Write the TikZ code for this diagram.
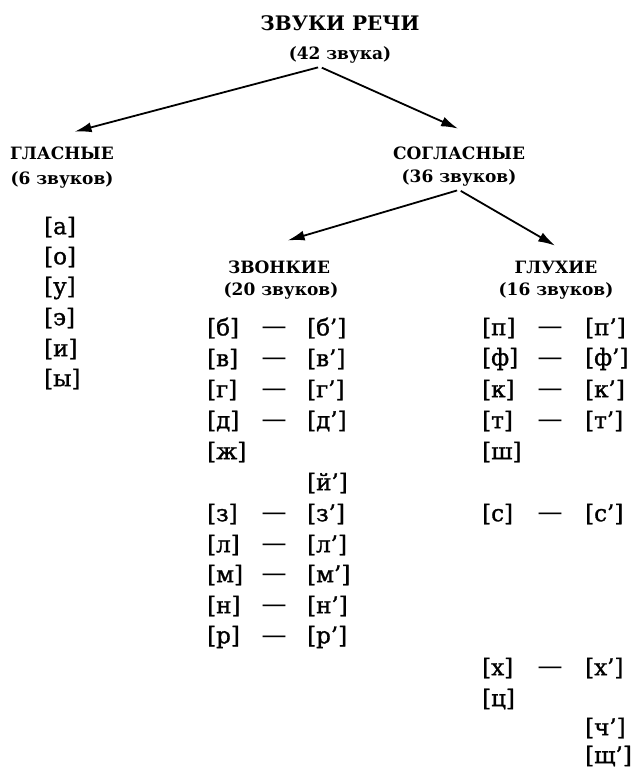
\documentclass[tikz,border=0pt]{standalone}
\usepackage{fontspec}
\setmainfont{DejaVu Serif}
\usepackage{tikz}
\usetikzlibrary{arrows.meta}

\tikzset{
	arr/.style={line width=1.8pt,-{Latex[length=17pt,width=10pt]},shorten <=2pt},
	toptxt/.style={font=\bfseries\fontsize{20}{24}\selectfont},
	headtxt/.style={font=\bfseries\fontsize{17}{20}\selectfont},
	snd/.style={anchor=west,inner sep=0pt,font=\fontsize{23}{26}\selectfont\addfontfeature{FakeBold=1.2}},
	dsh/.style={inner sep=0pt,yshift=-3pt,font=\fontsize{25}{26}\selectfont}
}

\begin{document}
\begin{tikzpicture}[x=1pt,y=-1pt]
		\useasboundingbox (0,0) rectangle (642,771);
		% heads
		\node[toptxt] (title) at (340,23) {ЗВУКИ РЕЧИ};
		\node[headtxt] (all) at (340,55) {(42 звука)};
		\node[headtxt] (vow) at (62,153) {ГЛАСНЫЕ};
		\node[headtxt] (vowN) at (62,180) {(6 звуков)};
		\node[headtxt] (cons) at (459,153) {СОГЛАСНЫЕ};
		\node[headtxt] (consN) at (459,178) {(36 звуков)};
		\node[headtxt] (voiced) at (279,267) {ЗВОНКИЕ};
		\node[headtxt] (voicedN) at (281,291) {(20 звуков)};
		\node[headtxt] (deaf) at (556,267) {ГЛУХИЕ};
		\node[headtxt] (deafN) at (556,291) {(16 звуков)};
		\draw[arr,shorten >=13pt] ([xshift=-20pt]all.south) -- ([yshift=8pt]vow.north);
		\draw[arr,shorten >=1pt] ([xshift=-20pt]all.south) -- ([yshift=14pt]cons.north);
		\draw[arr,shorten >=9pt] (consN.south) -- ([yshift=14pt]voiced.north);
		\draw[arr,shorten >=1pt] (consN.south) -- ([yshift=11pt]deaf.north);
		% vowels
		\node[snd] (a) at (44,227) {[а]};
		\node[snd] (o) at (44,257) {[о]};
		\node[snd] (u) at (44,288) {[у]};
		\node[snd] (e) at (44,318) {[э]};
		\node[snd] (i) at (44,349) {[и]};
		\node[snd] (y) at (44,379) {[ы]};
		% voiced
		\node[snd] (b) at (207,328) {[б]};
		\node[dsh] (db) at (274,328) {—};
		\node[snd] (bb) at (307,328) {[б’]};
		\node[snd] (v) at (207,359) {[в]};
		\node[dsh] (dv) at (274,359) {—};
		\node[snd] (vv) at (307,359) {[в’]};
		\node[snd] (g) at (207,390) {[г]};
		\node[dsh] (dg) at (274,390) {—};
		\node[snd] (gg) at (307,390) {[г’]};
		\node[snd] (d) at (207,421) {[д]};
		\node[dsh] (dd) at (274,421) {—};
		\node[snd] (ddd) at (307,421) {[д’]};
		\node[snd] (zh) at (207,452) {[ж]};
		\node[snd] (jj) at (307,483) {[й’]};
		\node[snd] (z) at (207,514) {[з]};
		\node[dsh] (dz) at (274,514) {—};
		\node[snd] (zz) at (307,514) {[з’]};
		\node[snd] (l) at (207,545) {[л]};
		\node[dsh] (dl) at (274,545) {—};
		\node[snd] (ll) at (307,545) {[л’]};
		\node[snd] (m) at (207,575) {[м]};
		\node[dsh] (dm) at (274,575) {—};
		\node[snd] (mm) at (307,575) {[м’]};
		\node[snd] (n) at (207,606) {[н]};
		\node[dsh] (dn) at (274,606) {—};
		\node[snd] (nn) at (307,606) {[н’]};
		\node[snd] (r) at (207,637) {[р]};
		\node[dsh] (dr) at (274,637) {—};
		\node[snd] (rr) at (307,637) {[р’]};
		% voiceless
		\node[snd] (p) at (482,328) {[п]};
		\node[dsh] (dp) at (550,328) {—};
		\node[snd] (pp) at (585,328) {[п’]};
		\node[snd] (f) at (482,359) {[ф]};
		\node[dsh] (df) at (550,359) {—};
		\node[snd] (ff) at (585,359) {[ф’]};
		\node[snd] (k) at (482,390) {[к]};
		\node[dsh] (dk) at (550,390) {—};
		\node[snd] (kk) at (585,390) {[к’]};
		\node[snd] (t) at (482,421) {[т]};
		\node[dsh] (dt) at (550,421) {—};
		\node[snd] (tt) at (585,421) {[т’]};
		\node[snd] (sh) at (482,452) {[ш]};
		\node[snd] (s) at (482,514) {[с]};
		\node[dsh] (ds) at (550,514) {—};
		\node[snd] (ss) at (585,514) {[с’]};
		\node[snd] (h) at (482,668) {[х]};
		\node[dsh] (dh) at (550,668) {—};
		\node[snd] (hh) at (585,668) {[х’]};
		\node[snd] (c) at (482,699) {[ц]};
		\node[snd] (ch) at (585,728) {[ч’]};
		\node[snd] (shch) at (585,756) {[щ’]};
\end{tikzpicture}
\end{document}
